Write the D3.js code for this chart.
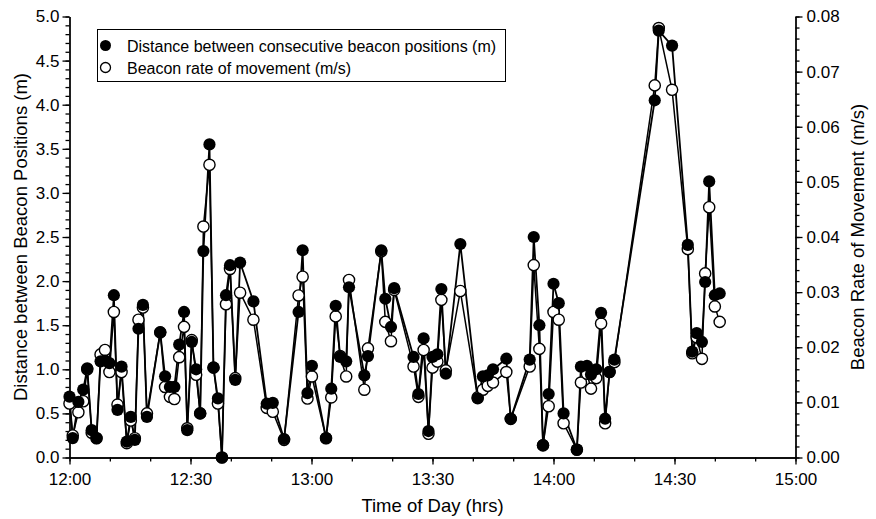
<!DOCTYPE html>
<html><head><meta charset="utf-8">
<script src="https://cdn.jsdelivr.net/npm/d3@7"></script>
<style>
body{margin:0;background:#fff;}
svg{display:block;font-family:"Liberation Sans",Arial,sans-serif;}
</style></head>
<body><svg id="c" width="876" height="519"></svg>
<script>
// minutes after 12:00
const minutesAfterNoon = [0.0, 0.8, 2.2, 3.4, 4.4, 5.5, 6.7, 7.7, 8.8, 9.9,
 11.0, 11.9, 12.9, 14.2, 15.2, 16.2, 17.1, 18.2, 19.2, 22.5,
 23.7, 24.9, 26.0, 27.2, 28.4, 29.2, 30.3, 31.4, 32.4, 33.2,
 34.7, 35.7, 36.8, 37.8, 38.8, 39.8, 41.1, 42.3, 45.6, 48.9,
 50.4, 53.2, 56.8, 57.8, 59.0, 60.1, 63.6, 64.9, 66.0, 67.1,
 68.6, 69.3, 73.1, 74.0, 77.3, 78.3, 79.7, 80.5, 85.3, 86.5,
 87.8, 89.0, 90.0, 91.2, 92.2, 93.3, 96.9, 101.2, 102.5, 103.7,
 105.0, 108.3, 109.4, 114.1, 115.1, 116.5, 117.4, 118.8, 120.0, 121.3,
 122.5, 125.8, 126.8, 128.3, 129.3, 130.6, 131.8, 132.8, 133.9, 135.1,
 145.1, 146.1, 149.4, 153.3, 154.4, 155.5, 156.8, 157.6, 158.6, 160.0,
 161.2];
// Distance between consecutive beacon positions (m)
const distance = [0.69, 0.22, 0.63, 0.77, 1.01, 0.31, 0.22, 1.09, 1.10, 1.07,
 1.84, 0.54, 1.03, 0.18, 0.46, 0.20, 1.46, 1.73, 0.46, 1.42,
 0.92, 0.80, 0.80, 1.28, 1.65, 0.31, 1.31, 1.00, 0.50, 2.34,
 3.55, 1.02, 0.67, 0.00, 1.84, 2.18, 0.88, 2.21, 1.77, 0.61,
 0.62, 0.21, 1.65, 2.35, 0.73, 1.04, 0.22, 0.78, 1.72, 1.14,
 1.09, 1.93, 0.93, 1.15, 2.35, 1.80, 1.48, 1.92, 1.14, 0.72,
 1.35, 0.30, 1.14, 1.17, 1.91, 0.95, 2.42, 0.67, 0.92, 0.93,
 1.00, 1.12, 0.44, 1.11, 2.50, 1.50, 0.14, 0.72, 1.97, 1.75,
 0.50, 0.09, 1.03, 1.04, 0.94, 1.00, 1.64, 0.44, 0.97, 1.11,
 4.05, 4.84, 4.67, 2.41, 1.20, 1.41, 1.31, 1.99, 3.13, 1.84,
 1.86];
// Beacon rate of movement (m/s)
const rate = [0.0098, 0.0040, 0.0082, 0.0102, 0.0160, 0.0045, 0.0035, 0.0187, 0.0195, 0.0155,
 0.0264, 0.0096, 0.0155, 0.0026, 0.0067, 0.0035, 0.0250, 0.0272, 0.0080, 0.0227,
 0.0128, 0.0110, 0.0106, 0.0182, 0.0237, 0.0053, 0.0213, 0.0150, 0.0080, 0.0419,
 0.0531, 0.0163, 0.0098, 0.0000, 0.0278, 0.0342, 0.0144, 0.0299, 0.0250, 0.0090,
 0.0083, 0.0032, 0.0294, 0.0328, 0.0107, 0.0147, 0.0035, 0.0109, 0.0256, 0.0184,
 0.0147, 0.0322, 0.0123, 0.0198, 0.0374, 0.0246, 0.0211, 0.0304, 0.0165, 0.0110,
 0.0195, 0.0043, 0.0163, 0.0174, 0.0286, 0.0158, 0.0302, 0.0109, 0.0123, 0.0130,
 0.0136, 0.0155, 0.0070, 0.0165, 0.0349, 0.0197, 0.0022, 0.0093, 0.0264, 0.0250,
 0.0062, 0.0014, 0.0136, 0.0152, 0.0125, 0.0144, 0.0243, 0.0062, 0.0155, 0.0173,
 0.0675, 0.0779, 0.0667, 0.0378, 0.0189, 0.0218, 0.0179, 0.0334, 0.0454, 0.0274,
 0.0246];
const xTickLabels = ["12:00","12:30","13:00","13:30","14:00","14:30","15:00"];
const leftTickLabels = ["0.0","0.5","1.0","1.5","2.0","2.5","3.0","3.5","4.0","4.5","5.0"];
const rightTickLabels = ["0.00","0.01","0.02","0.03","0.04","0.05","0.06","0.07","0.08"];
const legendLabels = ["Distance between consecutive beacon positions (m)","Beacon rate of movement (m/s)"];

const svg = d3.select("#c");
const base = new Date(2000,0,1,12,0,0);
const toDate = m => new Date(base.getTime() + m*60000);
const X0 = 69.5, X1 = 795.5, Y0 = 457.5, Y1 = 16.5;
const x = d3.scaleTime().domain([toDate(0), toDate(180)]).range([X0, X1]);
const yL = d3.scaleLinear().domain([0,5]).range([Y0, Y1]);
const yR = d3.scaleLinear().domain([0,0.08]).range([Y0, Y1]);

const fs = 17;
function styleAxis(g){
  g.selectAll("path.domain").attr("stroke","#000").attr("stroke-width",1.3);
  g.selectAll(".tick line").attr("stroke","#000").attr("stroke-width",1.3);
  g.selectAll("text").attr("font-size",fs).attr("font-family","Liberation Sans, Arial, sans-serif").attr("fill","#000");
}
// minor ticks
const minorX = d3.range(0,181,10).map(toDate);
svg.append("g").attr("transform",`translate(0,${Y0})`)
  .call(d3.axisBottom(x).tickValues(minorX).tickSize(4).tickFormat("").tickSizeOuter(0)).call(styleAxis);
svg.append("g").attr("transform",`translate(${X0},0)`)
  .call(d3.axisLeft(yL).tickValues(d3.range(0,51).map(d=>d/10)).tickSize(4).tickFormat("").tickSizeOuter(0)).call(styleAxis);
svg.append("g").attr("transform",`translate(${X1},0)`)
  .call(d3.axisRight(yR).tickValues(d3.range(0,41).map(d=>d*0.002)).tickSize(4).tickFormat("").tickSizeOuter(0)).call(styleAxis);
// major ticks
svg.append("g").attr("transform",`translate(0,${Y0})`)
  .call(d3.axisBottom(x).tickValues(xTickLabels.map((s,i)=>toDate(i*30))).tickSize(7).tickPadding(8)
    .tickFormat((d,i)=>xTickLabels[i]).tickSizeOuter(0)).call(styleAxis);
svg.append("g").attr("transform",`translate(${X0},0)`)
  .call(d3.axisLeft(yL).tickValues(leftTickLabels.map(Number)).tickSize(7).tickPadding(3)
    .tickFormat((d,i)=>leftTickLabels[i]).tickSizeOuter(0)).call(styleAxis);
svg.append("g").attr("transform",`translate(${X1},0)`)
  .call(d3.axisRight(yR).tickValues(rightTickLabels.map(Number)).tickSize(7).tickPadding(4)
    .tickFormat((d,i)=>rightTickLabels[i]).tickSizeOuter(0)).call(styleAxis);

// titles
const tfs = 18.5;
svg.append("text").attr("x",(X0+X1)/2).attr("y",512).attr("text-anchor","middle")
  .attr("font-size",tfs).text("Time of Day (hrs)");
svg.append("text").attr("transform",`translate(27,${(Y0+Y1)/2}) rotate(-90)`).attr("text-anchor","middle")
  .attr("font-size",tfs).text("Distance between Beacon Positions (m)");
svg.append("text").attr("transform",`translate(864,${(Y0+Y1)/2}) rotate(-90)`).attr("text-anchor","middle")
  .attr("font-size",tfs).text("Beacon Rate of Movement (m/s)");

const pts = minutesAfterNoon.map((m,i)=>({t:toDate(m), d:distance[i], r:rate[i]}));
const lineD = d3.line().x(p=>x(p.t)).y(p=>yL(p.d));
const lineR = d3.line().x(p=>x(p.t)).y(p=>yR(p.r));
svg.append("path").datum(pts).attr("d",lineR).attr("fill","none").attr("stroke","#000").attr("stroke-width",1.5);
svg.append("path").datum(pts).attr("d",lineD).attr("fill","none").attr("stroke","#000").attr("stroke-width",1.8);
svg.append("g").selectAll("circle").data(pts).join("circle")
  .attr("cx",p=>x(p.t)).attr("cy",p=>yR(p.r)).attr("r",5.6)
  .attr("fill","#fff").attr("stroke","#000").attr("stroke-width",1.4);
svg.append("g").selectAll("circle").data(pts).join("circle")
  .attr("cx",p=>x(p.t)).attr("cy",p=>yL(p.d)).attr("r",6.1).attr("fill","#000");

// legend
const lg = svg.append("g");
lg.append("rect").attr("x",97.5).attr("y",29.5).attr("width",408).attr("height",52)
  .attr("fill","#fff").attr("stroke","#000").attr("stroke-width",1);
lg.append("circle").attr("cx",105.5).attr("cy",45.5).attr("r",5.5).attr("fill","#000");
lg.append("circle").attr("cx",105.5).attr("cy",67.5).attr("r",5).attr("fill","#fff").attr("stroke","#000").attr("stroke-width",1.3);
lg.selectAll("text.l").data(legendLabels).join("text").attr("class","l")
  .attr("x",127).attr("y",(d,i)=>51.5+i*22).attr("font-size",16).text(d=>d);
</script></body></html>
